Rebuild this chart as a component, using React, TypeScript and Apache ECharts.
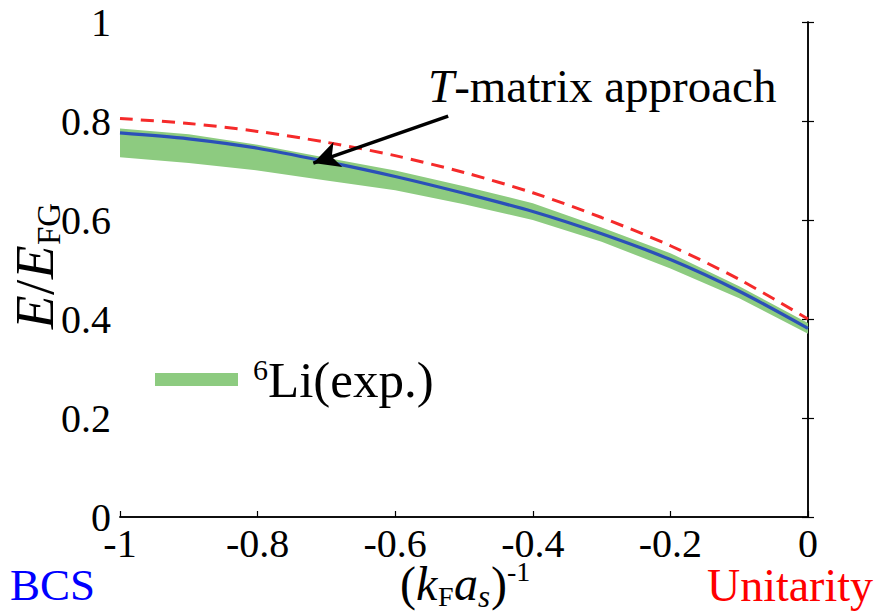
import React, { useEffect, useRef } from "react";
import * as echarts from "echarts";

const xValues = [-1, -0.9, -0.8, -0.7, -0.6, -0.5, -0.4, -0.3, -0.2, -0.1, 0];
const tMatrix = [0.776, 0.764, 0.745, 0.718, 0.688, 0.654, 0.617, 0.572, 0.520, 0.456, 0.381];
const unitarityRef = [0.805, 0.795, 0.779, 0.757, 0.730, 0.696, 0.655, 0.605, 0.548, 0.480, 0.400];
const expLower = [0.727, 0.715, 0.700, 0.680, 0.660, 0.632, 0.600, 0.556, 0.502, 0.442, 0.370];
const expUpper = [0.785, 0.773, 0.752, 0.726, 0.700, 0.668, 0.634, 0.585, 0.533, 0.466, 0.392];
const xTicks = [-1, -0.8, -0.6, -0.4, -0.2, 0];
const yTicks = [0, 0.2, 0.4, 0.6, 0.8, 1];
const arrowFrom = [-0.523, 0.81];
const arrowTo = [-0.719, 0.715];

const FONT = "'Liberation Serif', 'DejaVu Serif', serif";
const GREEN = "#8dcb80";

function frag(text: string, x: number, y: number, size: number, italic = false) {
  return {
    type: "text", x, y,
    style: {
      text, fontFamily: FONT, fontSize: size, fontStyle: italic ? "italic" : "normal",
      fill: "#000", align: "left", verticalAlign: "middle",
    },
  };
}

export default function App() {
  const ref = useRef<HTMLDivElement>(null);
  useEffect(() => {
    if (!ref.current) return;
    const chart = echarts.init(ref.current, null, { renderer: "svg" });
    const axisLine = { show: true, lineStyle: { color: "#000", width: 1.5 } };
    const tick = { show: true, inside: true, length: 6, lineStyle: { color: "#000", width: 1.2 } };
    const bandData = xValues.map((x, i) => [x, expLower[i], expUpper[i]]);
    const option: any = {
      animation: false,
      backgroundColor: "#fff",
      grid: { left: 120, right: 71, top: 22, bottom: 94 },
      xAxis: [
        {
          type: "value", min: -1, max: 0, interval: 0.2,
          axisLine, axisTick: tick, splitLine: { show: false },
          axisLabel: { color: "#000", fontFamily: FONT, fontSize: 40, margin: 10, lineHeight: 32,
            formatter: (v: number) => (xTicks.some(t => Math.abs(t - v) < 1e-9) ? String(Math.round(v * 10) / 10) : "") },
        },
        {
          type: "value", min: -1, max: 0, interval: 0.2, position: "top",
          axisLine, axisTick: { show: false }, axisLabel: { show: false }, splitLine: { show: false },
        },
      ],
      yAxis: [
        {
          type: "value", min: 0, max: 1, interval: 0.2,
          axisLine, axisTick: tick, splitLine: { show: false },
          axisLabel: { color: "#000", fontFamily: FONT, fontSize: 40, margin: 9, lineHeight: 24,
            formatter: (v: number) => (yTicks.some(t => Math.abs(t - v) < 1e-9) ? String(Math.round(v * 10) / 10) : "") },
        },
        {
          type: "value", min: 0, max: 1, interval: 0.2, position: "right",
          axisLine, axisTick: tick, axisLabel: { show: false }, splitLine: { show: false },
        },
      ],
      legend: {
        data: [{ name: "6Li(exp.)", icon: "rect", itemStyle: { color: GREEN } }],
        left: 150, top: 349,
        itemWidth: 83, itemHeight: 13,
        formatter: () => "{sup|6}{t|Li(exp.)}",
        textStyle: {
          padding: [0, 0, 0, 10],
          rich: {
            sup: { fontFamily: FONT, fontSize: 30, color: "#000", verticalAlign: "top", padding: [0, 0, 20, 0] },
            t: { fontFamily: FONT, fontSize: 51, color: "#000" },
          },
        },
      },
      series: [
        {
          name: "6Li(exp.)", type: "custom", z: 1,
          itemStyle: { color: GREEN },
          data: bandData,
          encode: { x: 0, y: [1, 2] },
          renderItem: (params: any, api: any) => {
            if (params.dataIndex !== 0) return null;
            const top = bandData.map(d => api.coord([d[0], d[2]]));
            const bottom = bandData.map(d => api.coord([d[0], d[1]])).reverse();
            return {
              type: "polygon",
              shape: { points: top.concat(bottom) },
              style: { fill: GREEN, stroke: "none" },
            };
          },
        },
        {
          name: "unitarity", type: "line", symbol: "none", smooth: 0.3,
          data: xValues.map((x, i) => [x, unitarityRef[i]]),
          lineStyle: { color: "#f52a2a", width: 3, type: [13, 8] }, z: 3,
        },
        {
          name: "T-matrix", type: "line", symbol: "none", smooth: 0.3,
          data: xValues.map((x, i) => [x, tMatrix[i]]),
          lineStyle: { color: "#2b50b8", width: 3.2 }, z: 4,
          markLine: {
            silent: true, symbol: ["none", "arrow"], symbolSize: [20, 26],
            label: { show: false },
            lineStyle: { color: "#000", width: 3.5, type: "solid" },
            data: [[{ coord: arrowFrom }, { coord: arrowTo }]],
          },
        },
      ],
      graphic: [
        {
          type: "text", left: 428, top: 62,
          style: {
            text: "{i|T}{t|-matrix approach}",
            rich: {
              i: { fontFamily: FONT, fontSize: 47, fontStyle: "italic", fill: "#000" },
              t: { fontFamily: FONT, fontSize: 47, fill: "#000" },
            },
          },
        },
        {
          type: "group", x: 34, y: 265, rotation: Math.PI / 2,
          children: [
            frag("E", -64, 0, 55, true),
            frag("/", -30, 0, 55),
            frag("E", -14, 0, 55, true),
            frag("FG", 20, 15, 33),
          ],
        },
        {
          type: "group", x: 0, y: 583,
          children: [
            frag("(", 400, 0, 48),
            frag("k", 416, 0, 48, true),
            frag("F", 438, 13, 28),
            frag("a", 454, 0, 48, true),
            frag("s", 478, 13, 31, true),
            frag(")", 491, 0, 48),
            frag("-1", 507, -12, 28),
          ],
        },
        {
          type: "text", left: 10, top: 562,
          style: { text: "BCS", fontFamily: FONT, fontSize: 45, lineHeight: 40, fill: "#0000ff" },
        },
        {
          type: "text", right: 6, top: 562,
          style: { text: "Unitarity", fontFamily: FONT, fontSize: 46, lineHeight: 40, fill: "#ff0000" },
        },
      ],
    };
    chart.setOption(option);
    return () => chart.dispose();
  }, []);
  return <div ref={ref} style={{ position: "fixed", left: 0, top: 0, width: 879, height: 611 }} />;
}
